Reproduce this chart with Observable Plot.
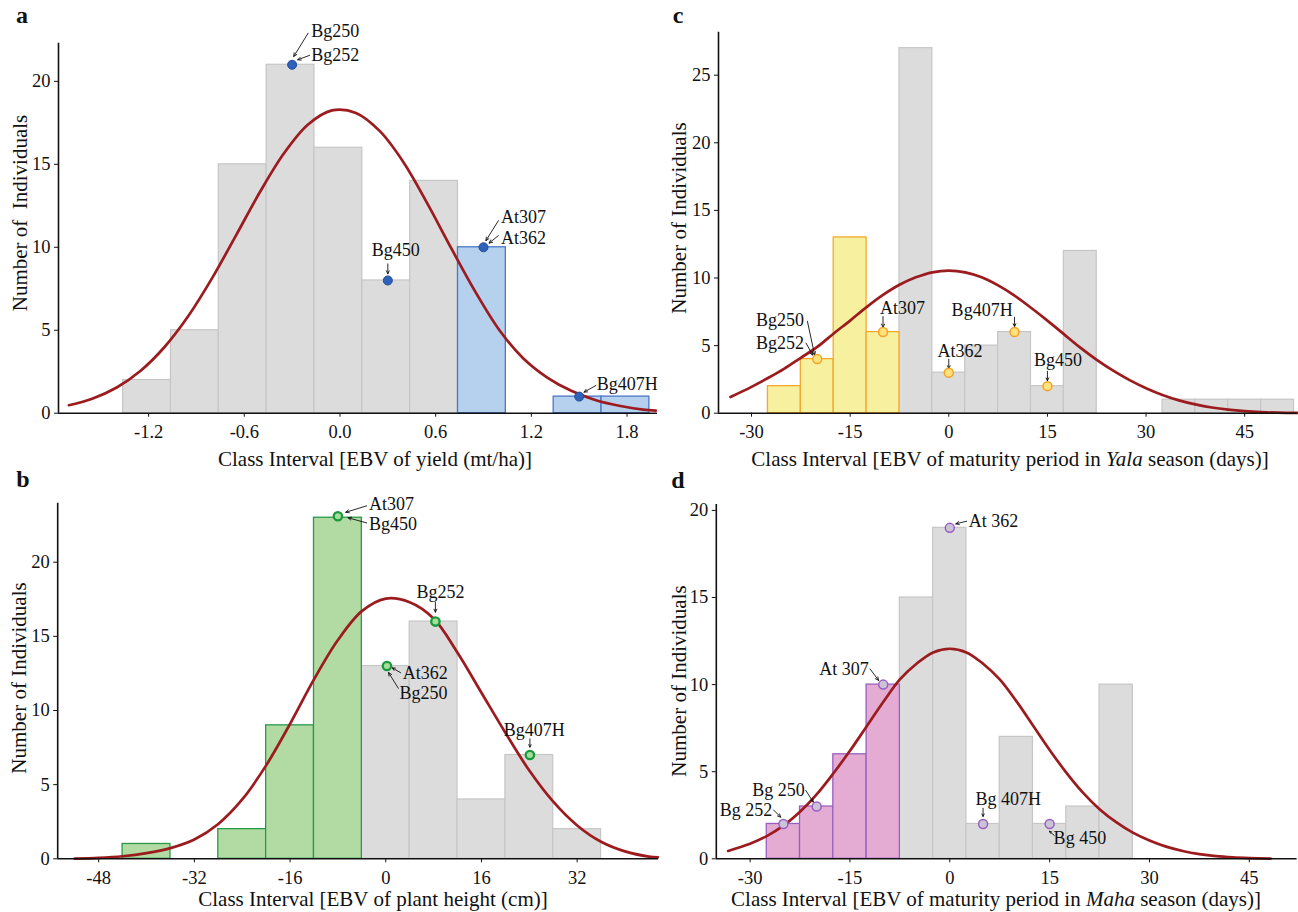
<!DOCTYPE html>
<html>
<head>
<meta charset="utf-8">
<script src="https://cdn.jsdelivr.net/npm/d3@7"></script>
<script src="https://cdn.jsdelivr.net/npm/@observablehq/plot@0.6"></script>
<style>
  html, body { margin: 0; padding: 0; background: #fff; }
  body { width: 1298px; height: 912px; position: relative; overflow: hidden;
         font-family: "Liberation Serif", "Times New Roman", serif; color: #111; }
  .panel { position: absolute; }
  .txt { position: absolute; white-space: pre; line-height: 1; }
  .ytitle { position: absolute; white-space: pre; line-height: 1; font-size: 21px;
            transform: translate(-50%, -50%) rotate(-90deg); }
</style>
</head>
<body>
<script>
// ---------------- Panel a: EBV of yield (mt/ha) ----------------
const aEdges = [-1.36, -1.06, -0.76, -0.46, -0.16, 0.14, 0.44, 0.74, 1.04, 1.34, 1.64, 1.94];
const aCounts = [2, 5, 15, 21, 16, 8, 14, 10, 0, 1, 1];
const aSelected = [0, 0, 0, 0, 0, 0, 0, 1, 0, 1, 1];
const aCurveX = [-1.7, -1.55, -1.4, -1.25, -1.1, -0.95, -0.8, -0.65, -0.5, -0.35, -0.2, -0.05, 0.1, 0.25, 0.4, 0.55, 0.7, 0.85, 1.0, 1.15, 1.3, 1.45, 1.6, 1.75, 1.9, 1.98];
const aCurveY = [0.48, 0.89, 1.55, 2.56, 3.99, 5.87, 8.17, 10.75, 13.36, 15.68, 17.4, 18.25, 18.1, 17.0, 15.1, 12.6, 9.9, 7.3, 5.0, 3.3, 2.15, 1.35, 0.8, 0.45, 0.22, 0.15];
const aPointX = [-0.3, 0.3, 0.9, 1.5];
const aPointY = [21, 8, 10, 1];
const aLabels = ["Bg250", "Bg252", "Bg450", "At307", "At362", "Bg407H"];
const aLabelX = [-0.18, -0.18, 0.35, 1.01, 1.01, 1.61];
const aLabelY = [23.0, 21.6, 9.8, 11.8, 10.55, 1.77];
const aLabelAnchor = ["start", "start", "middle", "start", "start", "start"];
const aArrowX1 = [-0.2, -0.19, 0.3, 0.993, 0.993, 1.605];
const aArrowY1 = [22.9, 21.57, 9.0, 11.6, 10.7, 1.67];
const aArrowX2 = [-0.29, -0.265, 0.3, 0.915, 0.935, 1.53];
const aArrowY2 = [21.5, 21.3, 8.4, 10.4, 10.25, 1.27];
const aTicksX = [-1.2, -0.6, 0.0, 0.6, 1.2, 1.8];
const aTicksY = [0, 5, 10, 15, 20];

// ---------------- Panel b: EBV of plant height (cm) ----------------
const bEdges = [-44, -36, -28, -20, -12, -4, 4, 12, 20, 28, 36];
const bCounts = [1, 0, 2, 9, 23, 13, 16, 4, 7, 2];
const bSelected = [1, 1, 1, 1, 1, 0, 0, 0, 0, 0];
const bCurveX = [-52, -48, -44, -40, -36, -32, -28, -24, -20, -16, -12, -8, -4, 0, 4, 8, 12, 16, 20, 24, 28, 32, 36, 40, 44, 45.5];
const bCurveY = [0.01, 0.06, 0.17, 0.38, 0.72, 1.3, 2.35, 4.0, 6.3, 9.1, 12.1, 14.75, 16.7, 17.55, 17.3, 16.2, 13.9, 11.2, 8.5, 5.95, 3.85, 2.25, 1.15, 0.5, 0.15, 0.1];
const bPointX = [-8, 0.2, 8.3, 24.1];
const bPointY = [23.1, 13, 16, 7];
const bLabels = ["At307", "Bg450", "Bg252", "At362", "Bg250", "Bg407H"];
const bLabelX = [-2.8, -2.8, 9.16, 2.83, 2.3, 24.83];
const bLabelY = [23.9, 22.55, 17.98, 12.5, 11.15, 8.7];
const bLabelAnchor = ["start", "start", "middle", "start", "start", "middle"];
const bArrowX1 = [-3.2, -3.2, 8.3, 2.48, 2.1, 24.1];
const bArrowY1 = [23.8, 22.65, 17.3, 12.55, 11.5, 8.09];
const bArrowX2 = [-6.7, -6.3, 8.3, 1.07, 0.47, 24.1];
const bArrowY2 = [23.37, 23.0, 16.63, 12.88, 12.56, 7.53];
const bTicksX = [-48, -32, -16, 0, 16, 32];
const bTicksY = [0, 5, 10, 15, 20];

// ---------------- Panel c: maturity period, Yala season (days) ----------------
const cEdges = [-27.5, -22.5, -17.5, -12.5, -7.5, -2.5, 2.5, 7.5, 12.5, 17.5, 22.5, 27.5, 32.5, 37.5, 42.5, 47.5, 52.5];
const cCounts = [2, 4, 13, 6, 27, 3, 5, 6, 2, 12, 0, 0, 1, 1, 1, 1];
const cSelected = [1, 1, 1, 1, 0, 0, 0, 0, 0, 0, 0, 0, 0, 0, 0, 0];
const cCurveX = [-33.2, -30, -27.5, -25, -22.5, -20, -17.5, -15, -12.5, -10, -7.5, -5, -2.5, 0, 2.5, 5, 7.5, 10, 12.5, 15, 17.5, 20, 22.5, 25, 27.5, 30, 32.5, 35, 37.5, 40, 42.5, 45, 47.5, 50, 53];
const cCurveY = [1.2, 1.95, 2.6, 3.3, 4.1, 4.9, 5.9, 6.85, 7.85, 8.75, 9.5, 10.05, 10.42, 10.55, 10.42, 10.05, 9.45, 8.7, 7.8, 6.85, 5.85, 4.85, 3.95, 3.15, 2.45, 1.85, 1.35, 0.95, 0.65, 0.42, 0.26, 0.15, 0.08, 0.04, 0.02];
const cPointX = [-20, -10, 0, 10, 15];
const cPointY = [4, 6, 3, 6, 2];
const cLabels = ["Bg250", "Bg252", "At307", "At362", "Bg407H", "Bg450"];
const cLabelX = [-22.0, -22.0, -7.05, 1.7, 5.07, 16.6];
const cLabelY = [6.9, 5.2, 7.8, 4.56, 7.65, 3.9];
const cLabelAnchor = ["end", "end", "middle", "middle", "middle", "middle"];
const cArrowX1 = [-21.5, -21.7, -10, 0, 10, 15];
const cArrowY1 = [6.8, 5.18, 7.15, 4.0, 7.1, 3.1];
const cArrowX2 = [-20.4, -20.7, -10, 0, 10, 15];
const cArrowY2 = [4.3, 4.3, 6.35, 3.3, 6.4, 2.4];
const cTicksX = [-30, -15, 0, 15, 30, 45];
const cTicksY = [0, 5, 10, 15, 20, 25];

// ---------------- Panel d: maturity period, Maha season (days) ----------------
const dEdges = [-27.5, -22.5, -17.5, -12.5, -7.5, -2.5, 2.5, 7.5, 12.5, 17.5, 22.5, 27.5];
const dCounts = [2, 3, 6, 10, 15, 19, 2, 7, 2, 3, 10];
const dSelected = [1, 1, 1, 1, 0, 0, 0, 0, 0, 0, 0];
const dCurveX = [-33.3, -32.5, -30, -27.5, -25, -22.5, -20, -17.5, -15, -12.5, -10, -7.5, -5, -2.5, 0, 2.5, 5, 7.5, 10, 12.5, 15, 17.5, 20, 22.5, 25, 27.5, 30, 32.5, 35, 37.5, 40, 42.5, 45, 48.2];
const dCurveY = [0.45, 0.55, 0.87, 1.3, 1.9, 2.7, 3.7, 4.9, 6.2, 7.6, 9.0, 10.3, 11.2, 11.85, 12.06, 11.85, 11.2, 10.3, 9.05, 7.65, 6.25, 4.95, 3.8, 2.85, 2.1, 1.5, 1.05, 0.7, 0.45, 0.27, 0.15, 0.08, 0.04, 0.01];
const dPointX = [-25, -20, -10, 0, 5, 15];
const dPointY = [2, 3, 10, 19, 2, 2];
const dLabels = ["At 362", "At 307", "Bg 250", "Bg 252", "Bg 407H", "Bg 450"];
const dLabelX = [2.85, -12.16, -21.8, -26.67, 8.79, 15.6];
const dLabelY = [19.38, 10.9, 3.96, 2.81, 3.44, 1.18];
const dLabelAnchor = ["start", "end", "end", "end", "middle", "start"];
const dArrowX1 = [2.53, -11.98, -21.63, -26.5, 5, 15.7];
const dArrowY1 = [19.38, 10.9, 3.92, 2.81, 2.9, 1.34];
const dArrowX2 = [0.9, -10.7, -20.5, -25.4, 5, 14.98];
const dArrowY2 = [19.23, 10.24, 3.25, 2.39, 2.43, 1.58];
const dTicksX = [-30, -15, 0, 15, 30, 45];
const dTicksY = [0, 5, 10, 15, 20];

// ---------------- drawing ----------------
const FONT = '"Liberation Serif", "Times New Roman", serif';
const CURVE_COLOR = "#9b1b1f";

function panel(cfg) {
  const bins = cfg.counts.map((c, i) => ({x1: cfg.edges[i], x2: cfg.edges[i + 1], y1: 0, y2: c, sel: cfg.sel[i]}))
    .filter(d => d.y2 > 0);
  const curve = cfg.cx.map((x, i) => ({x, y: cfg.cy[i]}));
  const pts = cfg.px.map((x, i) => ({x, y: cfg.py[i]}));
  const labels = cfg.labels.map((t, i) => ({t, x: cfg.lx[i], y: cfg.ly[i], a: cfg.la[i]}));
  const arrows = cfg.ax1.map((x1, i) => ({x1, y1: cfg.ay1[i], x2: cfg.ax2[i], y2: cfg.ay2[i]}));
  const textMarks = ["start", "middle", "end"].map(anchor =>
    Plot.text(labels.filter(d => d.a === anchor), {x: "x", y: "y", text: "t", textAnchor: anchor, fontSize: 18, fill: "#111"}));
  return Plot.plot({
    width: cfg.w, height: cfg.h,
    marginLeft: cfg.ml, marginRight: cfg.mr, marginTop: cfg.mt, marginBottom: cfg.mb,
    style: {fontFamily: FONT, fontSize: "18.5px", background: "transparent", color: "#111", overflow: "visible"},
    x: {domain: cfg.xd, ticks: cfg.xt, tickFormat: cfg.fmt, tickSize: 4, tickPadding: 8, label: null},
    y: {domain: cfg.yd, ticks: cfg.yt, tickFormat: d => String(d), tickSize: 4, tickPadding: 4, label: null},
    marks: [
      Plot.rect(bins.filter(d => !d.sel), {x1: "x1", x2: "x2", y1: "y1", y2: "y2", fill: "#dcdcdc", stroke: "#c6c6c6", strokeWidth: 1.2, inset: 0}),
      Plot.rect(bins.filter(d => d.sel), {x1: "x1", x2: "x2", y1: "y1", y2: "y2", fill: cfg.barFill, stroke: cfg.barStroke, strokeWidth: 1.3, inset: 0}),
      Plot.line(curve, {x: "x", y: "y", stroke: CURVE_COLOR, strokeWidth: 2.7, curve: "catmull-rom"}),
      Plot.arrow(arrows, {x1: "x1", y1: "y1", x2: "x2", y2: "y2", stroke: "#111", strokeWidth: 0.9, headLength: 6, headAngle: 50}),
      Plot.dot(pts, {x: "x", y: "y", r: cfg.r, fill: cfg.dotFill, stroke: cfg.dotStroke, strokeWidth: cfg.dotWidth}),
      ...textMarks,
      Plot.ruleY([0], {stroke: "#111", strokeWidth: 1.6}),
      Plot.ruleX([cfg.xd[0]], {stroke: "#111", strokeWidth: 1.6})
    ]
  });
}

function place(node, left, top, width) {
  const div = document.createElement("div");
  div.className = "panel";
  div.style.left = left + "px";
  div.style.top = top + "px";
  div.style.width = width + "px";
  div.appendChild(node);
  document.body.appendChild(div);
}

// text helper: x = centre x, baseline y
function addText(html, x, baseline, size, opts = {}) {
  const div = document.createElement("div");
  div.className = "txt";
  div.innerHTML = html;
  div.style.fontSize = size + "px";
  if (opts.bold) div.style.fontWeight = "bold";
  div.style.top = (baseline - 0.8375 * size) + "px";
  div.style.left = x + "px";
  div.style.transform = "translateX(-50%)";
  document.body.appendChild(div);
}
function addYTitle(text, cx, cy) {
  const div = document.createElement("div");
  div.className = "ytitle";
  div.textContent = text;
  div.style.left = cx + "px";
  div.style.top = cy + "px";
  document.body.appendChild(div);
}

const fmt1 = d => d.toFixed(1);
const fmt0 = d => String(d);

// panel a
place(panel({
  w: 660, h: 475, ml: 58, mr: 3, mt: 42.7, mb: 62.3,
  xd: [-1.765, 1.991], yd: [0, 22.3], xt: aTicksX, yt: aTicksY, fmt: fmt1,
  edges: aEdges, counts: aCounts, sel: aSelected, cx: aCurveX, cy: aCurveY,
  px: aPointX, py: aPointY, labels: aLabels, lx: aLabelX, ly: aLabelY, la: aLabelAnchor,
  ax1: aArrowX1, ay1: aArrowY1, ax2: aArrowX2, ay2: aArrowY2,
  barFill: "#b5d1ee", barStroke: "#4a78c8",
  r: 4.5, dotFill: "#2f62b8", dotStroke: "#1f4c9c", dotWidth: 1
}), 0, 0, 660);

// panel b
place(panel({
  w: 660, h: 437, ml: 57.2, mr: 2, mt: 27.7, mb: 53.7,
  xd: [-54.85, 45.6], yd: [0, 23.98], xt: bTicksX, yt: bTicksY, fmt: fmt0,
  edges: bEdges, counts: bCounts, sel: bSelected, cx: bCurveX, cy: bCurveY,
  px: bPointX, py: bPointY, labels: bLabels, lx: bLabelX, ly: bLabelY, la: bLabelAnchor,
  ax1: bArrowX1, ay1: bArrowY1, ax2: bArrowX2, ay2: bArrowY2,
  barFill: "#b2dba3", barStroke: "#2a9a4a",
  r: 4.2, dotFill: "#a6dc9c", dotStroke: "#199a3a", dotWidth: 2.3
}), 0, 475, 660);

// panel c
place(panel({
  w: 638, h: 475, ml: 58, mr: 1, mt: 31.7, mb: 62.3,
  xd: [-35.02, 53.03], yd: [0, 28.18], xt: cTicksX, yt: cTicksY, fmt: fmt0,
  edges: cEdges, counts: cCounts, sel: cSelected, cx: cCurveX, cy: cCurveY,
  px: cPointX, py: cPointY, labels: cLabels, lx: cLabelX, ly: cLabelY, la: cLabelAnchor,
  ax1: cArrowX1, ay1: cArrowY1, ax2: cArrowX2, ay2: cArrowY2,
  barFill: "#f7f09e", barStroke: "#f4a82c",
  r: 4.5, dotFill: "#ffe27a", dotStroke: "#f2a22a", dotWidth: 1.5
}), 660, 0, 638);

// panel d
place(panel({
  w: 638, h: 437, ml: 55.8, mr: 1.4, mt: 29, mb: 53.7,
  xd: [-35.08, 52.18], yd: [0, 20.34], xt: dTicksX, yt: dTicksY, fmt: fmt0,
  edges: dEdges, counts: dCounts, sel: dSelected, cx: dCurveX, cy: dCurveY,
  px: dPointX, py: dPointY, labels: dLabels, lx: dLabelX, ly: dLabelY, la: dLabelAnchor,
  ax1: dArrowX1, ay1: dArrowY1, ax2: dArrowX2, ay2: dArrowY2,
  barFill: "#e4acd2", barStroke: "#9a60c0",
  r: 4.5, dotFill: "#cbc3d6", dotStroke: "#9b5ec4", dotWidth: 1.5
}), 660, 475, 638);

// panel letters
addText("a", 22, 22.7, 24, {bold: true});
addText("b", 23, 486.7, 24, {bold: true});
addText("c", 678, 22.7, 24, {bold: true});
addText("d", 678, 488, 24, {bold: true});

// x-axis titles
addText("Class Interval [EBV of yield (mt/ha)]", 375, 466.7, 21);
addText("Class Interval [EBV of maturity period in <i>Yala</i> season (days)]", 1010, 466.7, 21);
addText("Class Interval [EBV of plant height (cm)]", 373, 906.7, 21);
addText("Class Interval [EBV of maturity period in <i>Maha</i> season (days)]", 996, 906.7, 21);

// y-axis titles
addYTitle("Number of  Individuals", 20, 213);
addYTitle("Number of Individuals", 679, 217.5);
addYTitle("Number of Individuals", 19, 678);
addYTitle("Number of Individuals", 679, 681);
</script>
</body>
</html>
